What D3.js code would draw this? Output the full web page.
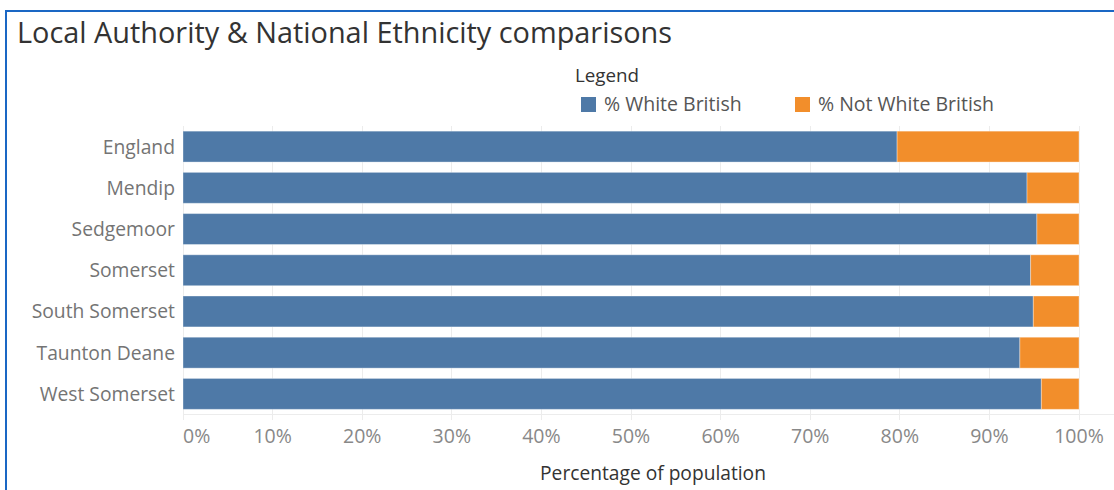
<!DOCTYPE html>
<html><head><meta charset="utf-8">
<script src="https://cdn.jsdelivr.net/npm/d3@7"></script>
<style>
html,body{margin:0;padding:0;background:#fff;}
svg{display:block;font-family:"Open Sans",sans-serif;}
</style></head>
<body><svg id="c" width="1114" height="490"></svg>
<script>
const categories = ["England","Mendip","Sedgemoor","Somerset","South Somerset","Taunton Deane","West Somerset"];
const whiteBritish = [79.7, 94.2, 95.3, 94.6, 94.9, 93.4, 95.8];
const notWhiteBritish = [20.3, 5.8, 4.7, 5.4, 5.1, 6.6, 4.2];
const seriesNames = ["% White British","% Not White British"];
const seriesColors = ["#4e79a7","#f28e2b"];
const xTicks = [0,10,20,30,40,50,60,70,80,90,100];

const svg = d3.select("#c");
// border
svg.append("path").attr("d","M6,491 V11 H1115").attr("fill","none").attr("stroke","#1a67c4").attr("stroke-width",2);

svg.append("text").attr("x",17).attr("y",43).attr("font-size",28.5).attr("fill","#333")
  .attr("textLength",655).attr("lengthAdjust","spacingAndGlyphs")
  .text("Local Authority & National Ethnicity comparisons");

const x = d3.scaleLinear().domain([0,100]).range([183,1079]);
const y = d3.scaleBand().domain(categories).range([126,414.5]).paddingInner(0.25).paddingOuter(0.125);

// gridlines
svg.append("g").selectAll("line").data(xTicks).join("line")
  .attr("x1",d=>x(d)).attr("x2",d=>x(d)).attr("y1",126).attr("y2",420)
  .attr("stroke","#ececec").attr("stroke-width",1).attr("shape-rendering","crispEdges");
svg.append("line").attr("x1",183).attr("x2",1114).attr("y1",414.5).attr("y2",414.5)
  .attr("stroke","#ececec");

const rows = categories.map((c,i)=>({c, w:whiteBritish[i], n:notWhiteBritish[i]}));
const g = svg.append("g");
g.selectAll("rect.w").data(rows).join("rect").attr("class","w")
  .attr("x",x(0)).attr("y",d=>y(d.c)).attr("width",d=>x(d.w)-x(0)).attr("height",y.bandwidth())
  .attr("fill",seriesColors[0]).attr("stroke","#fff").attr("stroke-opacity",0.35).attr("stroke-width",1);
g.selectAll("rect.n").data(rows).join("rect").attr("class","n")
  .attr("x",d=>x(d.w)).attr("y",d=>y(d.c)).attr("width",d=>x(d.w+d.n)-x(d.w)).attr("height",y.bandwidth())
  .attr("fill",seriesColors[1]).attr("stroke","#fff").attr("stroke-opacity",0.35).attr("stroke-width",1);

// y labels
svg.append("g").selectAll("text").data(categories).join("text")
  .attr("x",175).attr("y",d=>y(d)+y.bandwidth()/2).attr("dy","0.36em")
  .attr("text-anchor","end").attr("font-size",19.3).attr("fill","#747474").text(d=>d);

// x tick labels
svg.append("g").selectAll("text").data(xTicks).join("text")
  .attr("x",d=>x(d)).attr("y",443)
  .attr("text-anchor",d=>d===0?"start":"middle").attr("font-size",19.5).attr("fill","#888")
  .text(d=>d+"%");

svg.append("text").attr("x",653).attr("y",480).attr("text-anchor","middle").attr("font-size",19.2)
  .attr("fill","#333").text("Percentage of population");

// legend
svg.append("text").attr("x",575).attr("y",82).attr("font-size",18.8).attr("fill","#333").attr("font-weight",500).text("Legend");
const legX = [581, 795];
const lg = svg.append("g").selectAll("g").data(seriesNames).join("g")
  .attr("transform",(d,i)=>`translate(${legX[i]},97)`);
lg.append("rect").attr("width",15).attr("height",15).attr("fill",(d,i)=>seriesColors[i]);
lg.append("text").attr("x",23).attr("y",14).attr("font-size",19.5).attr("fill","#555").text(d=>d);
</script></body></html>
